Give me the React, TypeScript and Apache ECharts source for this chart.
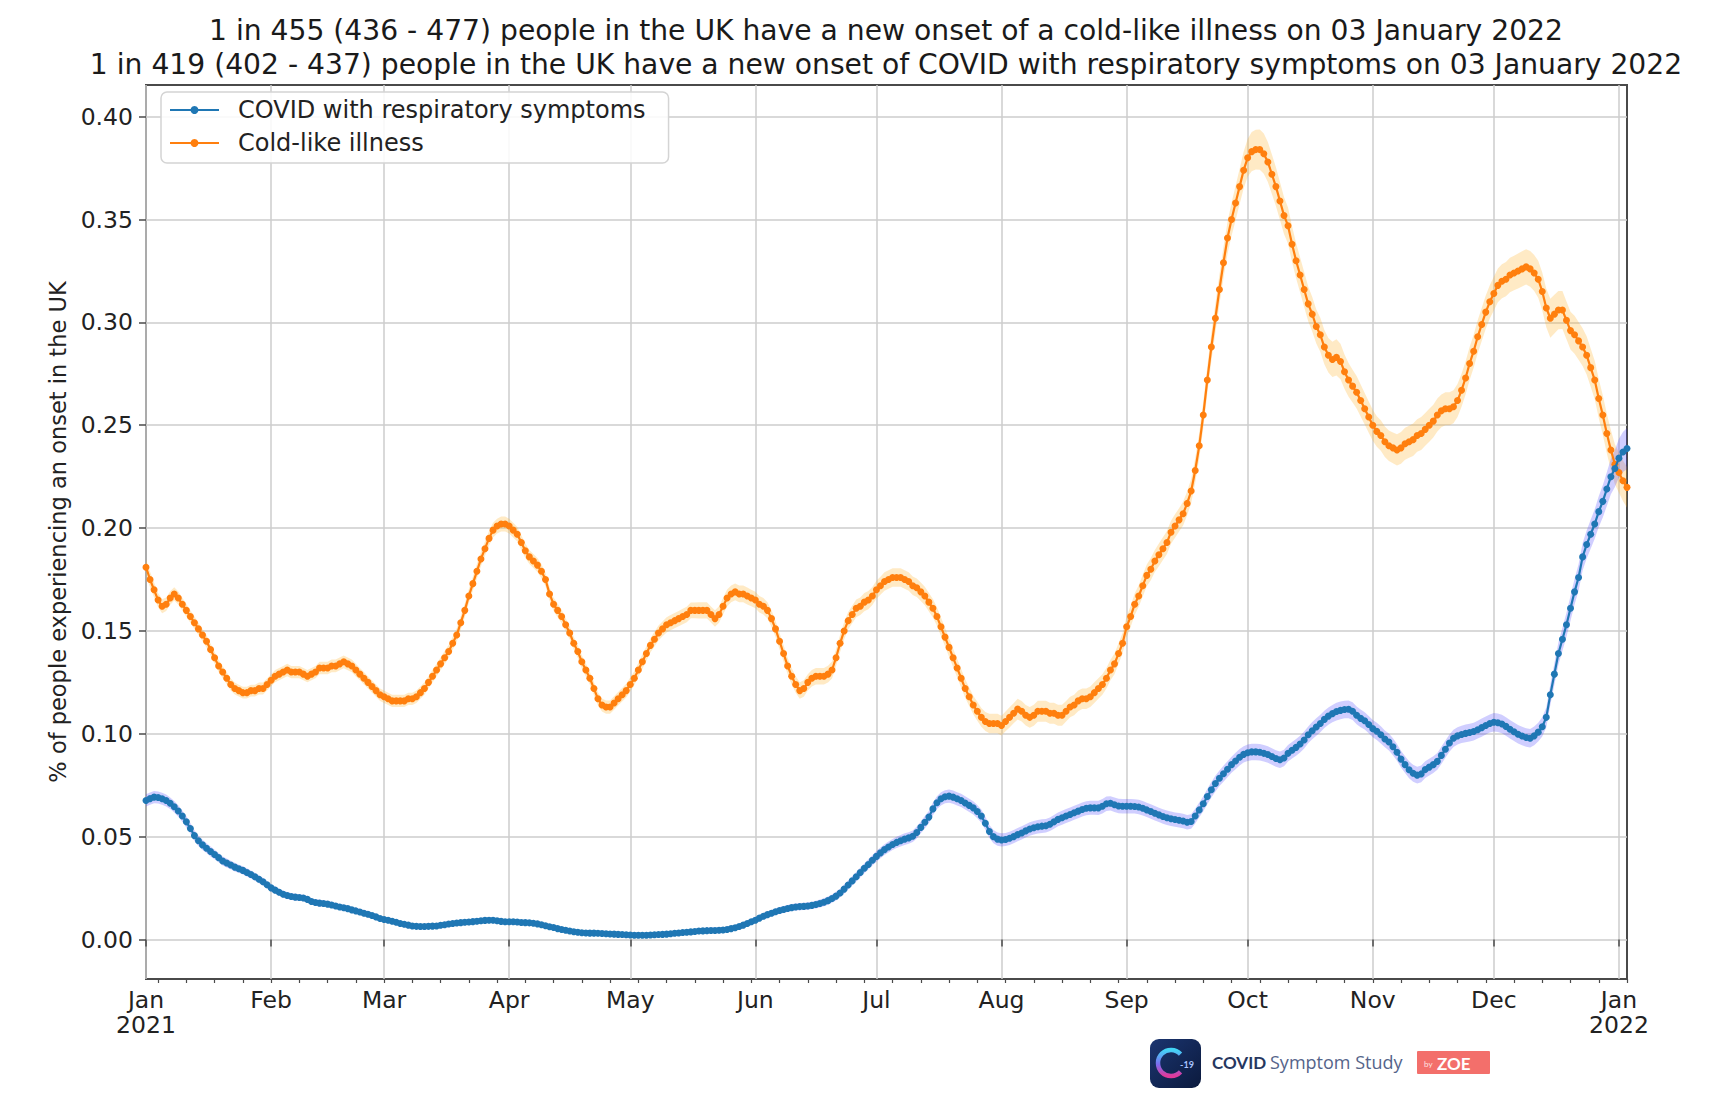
import React, { useEffect, useRef } from "react";
import * as echarts from "echarts";

// ---- Text ----
const TITLE_LINES = [
  "1 in 455 (436 - 477) people in the UK have a new onset of a cold-like illness on 03 January 2022",
  "1 in 419 (402 - 437) people in the UK have a new onset of COVID with respiratory symptoms on 03 January 2022",
];
const Y_AXIS_NAME = "% of people experiencing an onset in the UK";
const COVID_NAME = "COVID with respiratory symptoms";
const COLD_NAME = "Cold-like illness";

// ---- Axes ----
// x is the day index counted from 1 January 2021 (day 0) to 3 January 2022 (day 367)
const X_MAX_DAY = 367;
const MONTH_TICK_DAYS = [0, 31, 59, 90, 120, 151, 181, 212, 243, 273, 304, 334, 365];
const MONTH_TICK_LABELS = [
  "Jan\n2021", "Feb", "Mar", "Apr", "May", "Jun", "Jul", "Aug", "Sep", "Oct", "Nov", "Dec", "Jan\n2022",
];
const FIRST_MONDAY_DAY = 3; // 4 January 2021
const Y_TICKS = [0, 0.05, 0.1, 0.15, 0.2, 0.25, 0.3, 0.35, 0.4];
const Y_MIN = -0.0192;
const Y_MAX = 0.4154;

// ---- Daily values (% of people), one per day from day 0 ----
const COVID_VALUES = [
  0.0676, 0.0685, 0.0692, 0.0690, 0.0684, 0.0676, 0.0662, 0.0645, 0.0625, 0.0600,
  0.0572, 0.0540, 0.0505, 0.0480, 0.0460, 0.0444, 0.0428, 0.0413, 0.0398, 0.0382,
  0.0372, 0.0362, 0.0352, 0.0344, 0.0336, 0.0326, 0.0316, 0.0305, 0.0293, 0.0281,
  0.0266, 0.0251, 0.0240, 0.0230, 0.0220, 0.0214, 0.0209, 0.0206, 0.0204, 0.0202,
  0.0195, 0.0185, 0.0180, 0.0177, 0.0175, 0.0172, 0.0168, 0.0163, 0.0158, 0.0154,
  0.0150, 0.0144, 0.0139, 0.0134, 0.0128, 0.0123, 0.0117, 0.0110, 0.0102, 0.0097,
  0.0094, 0.0089, 0.0084, 0.0078, 0.0074, 0.0070, 0.0066, 0.0064, 0.0063, 0.0063,
  0.0064, 0.0065, 0.0066, 0.0069, 0.0072, 0.0075, 0.0078, 0.0080, 0.0082, 0.0084,
  0.0085, 0.0087, 0.0089, 0.0091, 0.0093, 0.0094, 0.0094, 0.0091, 0.0088, 0.0086,
  0.0086, 0.0086, 0.0085, 0.0083, 0.0082, 0.0081, 0.0079, 0.0076, 0.0072, 0.0067,
  0.0062, 0.0058, 0.0053, 0.0049, 0.0045, 0.0041, 0.0038, 0.0035, 0.0033, 0.0032,
  0.0031, 0.0031, 0.0030, 0.0029, 0.0028, 0.0027, 0.0026, 0.0025, 0.0024, 0.0023,
  0.0022, 0.0021, 0.0021, 0.0021, 0.0021, 0.0022, 0.0023, 0.0024, 0.0025, 0.0026,
  0.0028, 0.0030, 0.0032, 0.0034, 0.0035, 0.0037, 0.0039, 0.0041, 0.0042, 0.0043,
  0.0044, 0.0044, 0.0045, 0.0046, 0.0049, 0.0053, 0.0057, 0.0063, 0.0070, 0.0078,
  0.0086, 0.0094, 0.0104, 0.0113, 0.0121, 0.0128, 0.0135, 0.0141, 0.0146, 0.0151,
  0.0155, 0.0158, 0.0160, 0.0161, 0.0163, 0.0166, 0.0170, 0.0175, 0.0181, 0.0189,
  0.0199, 0.0211, 0.0226, 0.0245, 0.0265, 0.0285, 0.0305, 0.0326, 0.0346, 0.0365,
  0.0385, 0.0404, 0.0421, 0.0437, 0.0450, 0.0462, 0.0472, 0.0480, 0.0488, 0.0494,
  0.0502, 0.0520, 0.0545, 0.0570, 0.0595, 0.0635, 0.0665, 0.0684, 0.0694, 0.0697,
  0.0692, 0.0684, 0.0676, 0.0664, 0.0652, 0.0640, 0.0622, 0.0600, 0.0565, 0.0525,
  0.0500, 0.0488, 0.0484, 0.0486, 0.0492, 0.0500, 0.0510, 0.0518, 0.0528, 0.0537,
  0.0543, 0.0548, 0.0551, 0.0553, 0.0560, 0.0572, 0.0584, 0.0592, 0.0600, 0.0608,
  0.0616, 0.0624, 0.0632, 0.0638, 0.0640, 0.0640, 0.0640, 0.0648, 0.0660, 0.0662,
  0.0655, 0.0649, 0.0648, 0.0648, 0.0648, 0.0647, 0.0644, 0.0638, 0.0630, 0.0622,
  0.0614, 0.0606, 0.0598, 0.0592, 0.0587, 0.0583, 0.0580, 0.0576, 0.0570, 0.0574,
  0.0600, 0.0630, 0.0660, 0.0695, 0.0728, 0.0758, 0.0784, 0.0806, 0.0828, 0.0850,
  0.0868, 0.0886, 0.0900, 0.0908, 0.0912, 0.0912, 0.0910, 0.0905, 0.0899, 0.0890,
  0.0880, 0.0874, 0.0882, 0.0905, 0.0920, 0.0934, 0.0950, 0.0970, 0.0995, 0.1015,
  0.1033, 0.1050, 0.1070, 0.1086, 0.1098, 0.1108, 0.1114, 0.1118, 0.1119, 0.1110,
  0.1090, 0.1075, 0.1063, 0.1045, 0.1025, 0.1012, 0.0995, 0.0975, 0.0960, 0.0937,
  0.0910, 0.0877, 0.0850, 0.0825, 0.0808, 0.0799, 0.0805, 0.0826, 0.0838, 0.0850,
  0.0866, 0.0895, 0.0925, 0.0955, 0.0978, 0.0990, 0.0997, 0.1002, 0.1006, 0.1011,
  0.1020, 0.1030, 0.1040, 0.1050, 0.1056, 0.1054, 0.1048, 0.1036, 0.1022, 0.1010,
  0.0998, 0.0989, 0.0982, 0.0978, 0.0990, 0.1008, 0.1034, 0.1080, 0.1190, 0.1290,
  0.1390, 0.1460, 0.1530, 0.1610, 0.1690, 0.1760, 0.1860, 0.1920, 0.1970, 0.2020,
  0.2080, 0.2130, 0.2190, 0.2250, 0.2290, 0.2340, 0.2370, 0.2387,
];

// Half-width of the COVID confidence band, in units of 0.0001 %
const COVID_HALF_WIDTH = [
  30, 30, 30, 29, 29, 29, 28, 28, 28, 27,
  27, 26, 26, 25, 25, 24, 24, 23, 23, 22,
  22, 21, 21, 20, 20, 20, 19, 19, 19, 18,
  18, 18, 18, 17, 17, 17, 17, 16, 16, 16,
  16, 16, 16, 16, 16, 15, 15, 15, 15, 15,
  15, 15, 15, 15, 15, 15, 15, 15, 14, 14,
  14, 14, 14, 14, 14, 14, 14, 14, 14, 14,
  14, 14, 14, 14, 14, 14, 14, 14, 14, 14,
  14, 14, 14, 14, 14, 14, 14, 14, 14, 14,
  14, 14, 14, 14, 14, 14, 13, 13, 13, 13,
  13, 13, 13, 13, 13, 13, 13, 13, 13, 13,
  13, 13, 13, 13, 13, 13, 13, 13, 13, 13,
  13, 13, 13, 13, 13, 13, 13, 13, 13, 13,
  13, 13, 13, 13, 13, 13, 13, 14, 14, 14,
  14, 14, 14, 14, 14, 14, 14, 14, 15, 15,
  15, 15, 15, 16, 16, 16, 16, 17, 17, 17,
  17, 17, 18, 18, 18, 18, 19, 19, 19, 20,
  20, 21, 21, 22, 22, 23, 23, 24, 24, 25,
  25, 26, 26, 26, 27, 27, 27, 28, 28, 28,
  28, 29, 29, 30, 30, 31, 31, 32, 32, 32,
  32, 32, 32, 32, 32, 32, 32, 32, 32, 32,
  32, 32, 32, 32, 32, 32, 32, 32, 32, 33,
  33, 33, 33, 33, 33, 33, 33, 34, 34, 34,
  34, 34, 34, 34, 34, 34, 35, 35, 35, 35,
  35, 35, 35, 35, 35, 35, 35, 35, 35, 35,
  35, 35, 35, 35, 35, 35, 35, 35, 35, 35,
  36, 36, 37, 37, 38, 38, 38, 39, 39, 39,
  40, 40, 40, 40, 40, 40, 40, 40, 40, 40,
  40, 40, 40, 40, 40, 41, 41, 41, 41, 42,
  42, 42, 42, 42, 42, 43, 43, 43, 43, 43,
  43, 43, 42, 42, 42, 42, 42, 41, 41, 41,
  41, 41, 41, 41, 41, 41, 41, 41, 41, 41,
  41, 42, 42, 42, 42, 42, 42, 43, 43, 43,
  43, 44, 44, 44, 45, 45, 45, 45, 45, 45,
  45, 45, 45, 45, 46, 46, 47, 48, 50, 52,
  54, 56, 58, 60, 62, 64, 66, 68, 70, 72,
  75, 78, 82, 86, 90, 94, 97, 100,
];

const COLD_VALUES = [
  0.181, 0.175, 0.170, 0.165, 0.162, 0.163, 0.166, 0.168, 0.166, 0.163,
  0.160, 0.157, 0.154, 0.151, 0.148, 0.145, 0.141, 0.137, 0.133, 0.130,
  0.127, 0.124, 0.122, 0.121, 0.120, 0.120, 0.121, 0.121, 0.122, 0.122,
  0.124, 0.126, 0.128, 0.129, 0.130, 0.131, 0.130, 0.130, 0.130, 0.129,
  0.128, 0.129, 0.130, 0.132, 0.132, 0.132, 0.133, 0.133, 0.134, 0.135,
  0.134, 0.133, 0.131, 0.129, 0.127, 0.125, 0.123, 0.121, 0.119, 0.118,
  0.117, 0.116, 0.116, 0.116, 0.116, 0.117, 0.117, 0.118, 0.120, 0.122,
  0.125, 0.128, 0.131, 0.134, 0.137, 0.140, 0.144, 0.148, 0.154, 0.160,
  0.167, 0.173, 0.179, 0.185, 0.190, 0.195, 0.199, 0.201, 0.202, 0.202,
  0.201, 0.199, 0.197, 0.193, 0.189, 0.186, 0.184, 0.182, 0.179, 0.175,
  0.168, 0.163, 0.160, 0.157, 0.153, 0.149, 0.144, 0.140, 0.135, 0.131,
  0.127, 0.122, 0.117, 0.114, 0.113, 0.113, 0.115, 0.117, 0.119, 0.121,
  0.124, 0.127, 0.131, 0.135, 0.139, 0.143, 0.146, 0.149, 0.151, 0.153,
  0.154, 0.155, 0.156, 0.157, 0.158, 0.160, 0.160, 0.160, 0.160, 0.160,
  0.158, 0.156, 0.158, 0.162, 0.166, 0.168, 0.169, 0.168, 0.168, 0.167,
  0.166, 0.165, 0.163, 0.162, 0.160, 0.156, 0.151, 0.145, 0.139, 0.133,
  0.128, 0.124, 0.121, 0.122, 0.125, 0.127, 0.128, 0.128, 0.128, 0.129,
  0.131, 0.137, 0.144, 0.150, 0.155, 0.158, 0.161, 0.162, 0.164, 0.165,
  0.167, 0.170, 0.172, 0.174, 0.175, 0.176, 0.176, 0.176, 0.175, 0.174,
  0.172, 0.171, 0.169, 0.167, 0.164, 0.161, 0.157, 0.152, 0.147, 0.142,
  0.137, 0.132, 0.127, 0.122, 0.118, 0.114, 0.111, 0.108, 0.106, 0.105,
  0.105, 0.105, 0.104, 0.106, 0.108, 0.110, 0.112, 0.111, 0.109, 0.108,
  0.109, 0.111, 0.111, 0.111, 0.110, 0.110, 0.109, 0.109, 0.111, 0.113,
  0.114, 0.116, 0.117, 0.117, 0.118, 0.120, 0.122, 0.124, 0.127, 0.131,
  0.134, 0.139, 0.144, 0.152, 0.157, 0.163, 0.167, 0.172, 0.177, 0.180,
  0.184, 0.187, 0.190, 0.193, 0.198, 0.201, 0.204, 0.207, 0.212, 0.218,
  0.228, 0.240, 0.255, 0.272, 0.288, 0.302, 0.316, 0.329, 0.341, 0.350,
  0.358, 0.366, 0.374, 0.380, 0.383, 0.384, 0.384, 0.382, 0.378, 0.372,
  0.366, 0.359, 0.352, 0.347, 0.338, 0.330, 0.323, 0.316, 0.309, 0.304,
  0.298, 0.294, 0.288, 0.284, 0.282, 0.283, 0.281, 0.276, 0.272, 0.269,
  0.266, 0.262, 0.258, 0.254, 0.250, 0.247, 0.245, 0.242, 0.240, 0.239,
  0.238, 0.239, 0.241, 0.242, 0.243, 0.245, 0.246, 0.248, 0.250, 0.252,
  0.255, 0.257, 0.258, 0.258, 0.259, 0.262, 0.267, 0.273, 0.280, 0.286,
  0.293, 0.299, 0.305, 0.310, 0.314, 0.318, 0.320, 0.321, 0.323, 0.324,
  0.325, 0.326, 0.327, 0.326, 0.324, 0.321, 0.315, 0.307, 0.302, 0.304,
  0.306, 0.306, 0.301, 0.296, 0.294, 0.291, 0.288, 0.284, 0.278, 0.272,
  0.263, 0.255, 0.246, 0.238, 0.231, 0.227, 0.223, 0.2198,
];

// Half-width of the cold-like illness confidence band, in units of 0.0001 %
const COLD_HALF_WIDTH = [
  40, 38, 36, 35, 34, 33, 33, 32, 32, 31,
  31, 30, 30, 30, 30, 30, 29, 29, 29, 29,
  29, 29, 29, 29, 29, 29, 29, 29, 29, 29,
  29, 29, 30, 30, 30, 30, 30, 30, 30, 30,
  30, 30, 30, 30, 30, 30, 31, 31, 31, 31,
  31, 31, 31, 30, 30, 30, 30, 30, 30, 30,
  30, 30, 30, 30, 30, 30, 30, 30, 30, 30,
  30, 31, 31, 31, 32, 32, 32, 33, 33, 33,
  34, 34, 35, 35, 35, 36, 36, 36, 36, 36,
  36, 36, 35, 35, 35, 34, 34, 34, 34, 33,
  33, 33, 33, 33, 32, 32, 32, 32, 32, 32,
  32, 32, 32, 32, 32, 32, 33, 33, 33, 33,
  34, 34, 34, 35, 35, 35, 36, 36, 36, 37,
  37, 37, 37, 38, 38, 38, 38, 39, 39, 39,
  39, 40, 40, 40, 41, 41, 41, 41, 41, 41,
  40, 40, 40, 40, 40, 40, 40, 40, 40, 40,
  40, 40, 40, 40, 40, 40, 40, 40, 40, 41,
  41, 41, 42, 42, 42, 43, 43, 43, 44, 44,
  44, 44, 44, 45, 45, 45, 45, 45, 45, 45,
  45, 45, 45, 45, 45, 45, 45, 45, 45, 45,
  45, 45, 45, 45, 45, 45, 46, 46, 46, 47,
  47, 47, 48, 48, 49, 49, 50, 50, 50, 50,
  51, 51, 51, 51, 51, 51, 51, 51, 50, 50,
  50, 50, 50, 50, 50, 50, 50, 50, 50, 50,
  50, 50, 50, 51, 51, 52, 52, 53, 53, 54,
  54, 55, 55, 56, 56, 57, 57, 58, 58, 59,
  60, 62, 64, 66, 68, 70, 72, 75, 78, 80,
  83, 86, 89, 92, 95, 97, 98, 98, 97, 96,
  94, 92, 90, 88, 87, 86, 85, 85, 84, 84,
  83, 83, 83, 84, 86, 88, 86, 84, 82, 80,
  79, 78, 77, 76, 75, 74, 74, 74, 74, 75,
  76, 77, 78, 78, 79, 79, 80, 80, 80, 80,
  80, 80, 80, 80, 80, 80, 80, 80, 80, 80,
  80, 80, 81, 81, 82, 82, 83, 83, 84, 84,
  85, 86, 86, 87, 88, 90, 92, 94, 95, 94,
  93, 92, 92, 92, 92, 92, 92, 93, 93, 94,
  95, 96, 96, 97, 97, 98, 98, 99,
];

// ---- Styles ----
const FONT = "'DejaVu Sans', sans-serif";
const BLUE = "#1f77b4";
const ORANGE = "#ff7f0e";
const BLUE_BAND = "rgba(60, 50, 255, 0.24)";
const ORANGE_BAND = "rgba(255, 175, 30, 0.26)";
const GRID_COLOR = "#cccccc";
const AXIS_COLOR = "#4a4a4a";
const TEXT_COLOR = "#222222";

const HALF_WIDTH_UNIT = 10000;

function mondayTicks(): number[] {
  const ticks: number[] = [];
  for (let d = FIRST_MONDAY_DAY; d <= X_MAX_DAY; d += 7) ticks.push(d);
  return ticks;
}

// Confidence band drawn as one polygon: upper edge left-to-right, lower edge back
function bandSeries(id: string, values: number[], halfWidths: number[], color: string, z: number) {
  const rows = values.map((v, i) => [i, v - halfWidths[i] / HALF_WIDTH_UNIT, v + halfWidths[i] / HALF_WIDTH_UNIT]);
  return {
    id,
    name: id,
    type: "custom",
    silent: true,
    clip: true,
    z,
    data: rows,
    encode: { x: 0, y: [1, 2] },
    renderItem: (params: any, api: any) => {
      if (params.dataIndex !== 0) return null;
      const upper = rows.map((r) => api.coord([r[0], r[2]]));
      const lower = rows.map((r) => api.coord([r[0], r[1]])).reverse();
      return {
        type: "polygon",
        shape: { points: upper.concat(lower) },
        style: { fill: color, stroke: "none" },
        silent: true,
      };
    },
  };
}

function lineSeries(name: string, values: number[], color: string, z: number) {
  return {
    name,
    type: "line",
    data: values.map((v, i) => [i, v]),
    symbol: "circle",
    symbolSize: 7,
    showAllSymbol: true,
    clip: true,
    lineStyle: { color, width: 2.2 },
    itemStyle: { color },
    emphasis: { disabled: true },
    z,
  };
}

function titleText(text: string, y: number) {
  return {
    type: "text",
    x: 886,
    y,
    style: {
      text,
      fontFamily: FONT,
      fontSize: 28.2,
      fill: "#1a1a1a",
      align: "center",
      verticalAlign: "middle",
    },
  };
}

function buildOption() {
  return {
    animation: false,
    backgroundColor: "#ffffff",
    grid: {
      left: 146,
      right: 88,
      top: 85,
      bottom: 114,
      show: true,
      borderColor: AXIS_COLOR,
      borderWidth: 2,
      backgroundColor: "transparent",
    },
    legend: {
      data: [COVID_NAME, COLD_NAME],
      orient: "vertical",
      left: 161,
      top: 92,
      itemWidth: 49,
      itemHeight: 10,
      itemGap: 9,
      padding: [6, 23, 8, 8],
      selectedMode: false,
      backgroundColor: "rgba(255,255,255,0.85)",
      borderColor: "#d4d4d4",
      borderWidth: 1.5,
      borderRadius: 6,
      textStyle: {
        fontFamily: FONT,
        fontSize: 24,
        lineHeight: 24,
        color: TEXT_COLOR,
        padding: [0, 0, 0, 14],
      },
    },
    xAxis: [
      {
        type: "value",
        min: 0,
        max: X_MAX_DAY,
        position: "bottom",
        axisLine: { show: false },
        axisTick: {
          show: true,
          customValues: MONTH_TICK_DAYS,
          length: 7,
          lineStyle: { color: AXIS_COLOR, width: 1.5 },
        },
        axisLabel: {
          customValues: MONTH_TICK_DAYS,
          formatter: (v: number) => {
            const k = MONTH_TICK_DAYS.indexOf(v);
            return k >= 0 ? MONTH_TICK_LABELS[k] : "";
          },
          fontFamily: FONT,
          fontSize: 23.5,
          lineHeight: 25,
          color: TEXT_COLOR,
          margin: 8,
        },
        splitLine: { show: true, lineStyle: { color: GRID_COLOR, width: 1.5 } },
      },
      {
        type: "value",
        min: 0,
        max: X_MAX_DAY,
        position: "bottom",
        axisLine: { show: false },
        axisTick: {
          show: true,
          customValues: mondayTicks(),
          length: 4,
          lineStyle: { color: AXIS_COLOR, width: 1.2 },
        },
        axisLabel: { show: false },
        splitLine: { show: false },
      },
    ],
    yAxis: {
      type: "value",
      min: Y_MIN,
      max: Y_MAX,
      axisLine: { show: false },
      axisTick: {
        show: true,
        customValues: Y_TICKS,
        length: 7,
        lineStyle: { color: AXIS_COLOR, width: 1.5 },
      },
      axisLabel: {
        customValues: Y_TICKS,
        formatter: (v: number) => v.toFixed(2),
        fontFamily: FONT,
        fontSize: 23.5,
        color: TEXT_COLOR,
        margin: 13,
      },
      splitLine: { show: true, lineStyle: { color: GRID_COLOR, width: 1.5 } },
      name: Y_AXIS_NAME,
      nameLocation: "middle",
      nameRotate: 90,
      nameGap: 76,
      nameTextStyle: { fontFamily: FONT, fontSize: 22.5, color: TEXT_COLOR },
    },
    series: [
      bandSeries("cold-band", COLD_VALUES, COLD_HALF_WIDTH, ORANGE_BAND, 1),
      bandSeries("covid-band", COVID_VALUES, COVID_HALF_WIDTH, BLUE_BAND, 1),
      lineSeries(COLD_NAME, COLD_VALUES, ORANGE, 3),
      lineSeries(COVID_NAME, COVID_VALUES, BLUE, 4),
    ],
    graphic: [
      titleText(TITLE_LINES[0], 30.5),
      titleText(TITLE_LINES[1], 64),
      // Study logo
      {
        type: "rect",
        shape: { x: 1150, y: 1039, width: 51, height: 49, r: 9 },
        style: {
          fill: new echarts.graphic.LinearGradient(0, 0, 1, 1, [
            { offset: 0, color: "#1b3570" },
            { offset: 1, color: "#0b1a3d" },
          ]),
        },
      },
      {
        type: "arc",
        shape: { cx: 1171, cy: 1063, r: 13, startAngle: 0.75, endAngle: Math.PI * 2 - 0.75, clockwise: true },
        style: {
          fill: "none",
          lineWidth: 4.5,
          stroke: new echarts.graphic.LinearGradient(0, 0, 0, 1, [
            { offset: 0, color: "#43d4f5" },
            { offset: 0.55, color: "#7a6cf0" },
            { offset: 1, color: "#e0399a" },
          ]),
        },
      },
      {
        type: "text",
        x: 1187,
        y: 1064,
        style: {
          text: "-19",
          fontFamily: "Lato, sans-serif",
          fontSize: 9,
          fontWeight: "bold",
          fill: "#a9c4ff",
          align: "center",
          verticalAlign: "middle",
        },
      },
      {
        type: "text",
        x: 1212,
        y: 1062,
        style: {
          text: "COVID",
          fontFamily: "Lato, sans-serif",
          fontSize: 17,
          fontWeight: "bold",
          fill: "#26375f",
          verticalAlign: "middle",
        },
      },
      {
        type: "text",
        x: 1270,
        y: 1062,
        style: {
          text: "Symptom Study",
          fontFamily: "'Open Sans', sans-serif",
          fontSize: 18,
          fill: "#55648a",
          verticalAlign: "middle",
        },
      },
      {
        type: "rect",
        shape: { x: 1417, y: 1051, width: 73, height: 23, r: 1 },
        style: { fill: "#f36f6b" },
      },
      {
        type: "text",
        x: 1424,
        y: 1064,
        style: {
          text: "by",
          fontFamily: "Lato, sans-serif",
          fontSize: 8,
          fill: "#ffe3e1",
          verticalAlign: "middle",
        },
      },
      {
        type: "text",
        x: 1437,
        y: 1063,
        style: {
          text: "ZOE",
          fontFamily: "Lato, sans-serif",
          fontSize: 17,
          fontWeight: "bold",
          fill: "#ffffff",
          verticalAlign: "middle",
        },
      },
    ],
  };
}

export default function App() {
  const ref = useRef<HTMLDivElement | null>(null);

  useEffect(() => {
    if (!ref.current) return;
    const chart = echarts.init(ref.current, undefined, { renderer: "svg" });
    chart.setOption(buildOption() as any);
    return () => {
      chart.dispose();
    };
  }, []);

  return (
    <div
      ref={ref}
      style={{ position: "fixed", left: 0, top: 0, width: 1715, height: 1093, background: "#ffffff" }}
    />
  );
}
